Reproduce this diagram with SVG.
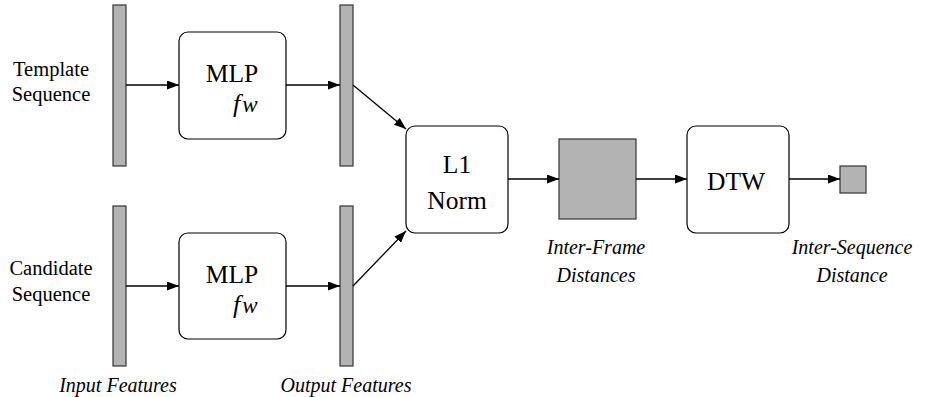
<svg xmlns="http://www.w3.org/2000/svg" width="938" height="397" viewBox="0 0 938 397">
<defs>
<marker id="ah" markerWidth="12" markerHeight="9" refX="12" refY="4.5" orient="auto" markerUnits="userSpaceOnUse">
<path d="M0,0 L12,4.5 L0,9 Z" fill="#000"/>
</marker>
<style>
.bar{fill:#b3b3b3;stroke:#333;stroke-width:1.2}
.box{fill:#fff;stroke:#000;stroke-width:1.2}
.t{font-family:"Liberation Serif",serif;fill:#000;text-anchor:middle}
.lbl{font-size:20.5px}
.big{font-size:25.5px}
.it{font-size:20px;font-style:italic}
.fw{font-family:"Liberation Serif",serif;font-size:26px;font-style:italic;fill:#000}
.c{stroke:#000;stroke-width:1.3;fill:none;marker-end:url(#ah)}
</style>
</defs>
<g id="template-label"><text class="t lbl" x="51" y="76">Template</text><text class="t lbl" x="51" y="101">Sequence</text></g>
<g id="candidate-label"><text class="t lbl" x="51" y="275">Candidate</text><text class="t lbl" x="51" y="301">Sequence</text></g>
<g id="input-top"><rect class="bar" x="113" y="5" width="13" height="161"/></g>
<g id="input-bottom"><rect class="bar" x="113" y="206" width="13" height="160"/></g>
<g id="output-top"><rect class="bar" x="340" y="5" width="13" height="161"/></g>
<g id="output-bottom"><rect class="bar" x="340" y="206" width="13" height="160"/></g>
<g id="mlp-top"><rect class="box" x="179" y="32" width="107" height="107" rx="9"/><text class="t big" x="232" y="82">MLP</text><text class="fw" x="233" y="111.5">f<tspan style="font-size:23px" dx="2">w</tspan></text></g>
<g id="mlp-bottom"><rect class="box" x="179" y="233" width="107" height="106" rx="9"/><text class="t big" x="232" y="283">MLP</text><text class="fw" x="233" y="312.5">f<tspan style="font-size:23px" dx="2">w</tspan></text></g>
<g id="l1norm"><rect class="box" x="406" y="126" width="102" height="107" rx="9"/><text class="t big" x="457" y="173">L1</text><text class="t big" x="457" y="209">Norm</text></g>
<g id="frame-dist"><rect class="bar" x="559" y="139" width="77" height="80"/><text class="t it" x="596" y="254">Inter-Frame</text><text class="t it" x="596" y="282">Distances</text></g>
<g id="dtw"><rect class="box" x="687" y="126" width="102" height="107" rx="9"/><text class="t big" x="736" y="190">DTW</text></g>
<g id="seq-dist"><rect class="bar" x="840" y="166" width="26" height="27"/><text class="t it" x="852" y="254">Inter-Sequence</text><text class="t it" x="852" y="282">Distance</text></g>
<g id="feature-labels"><text class="t it" x="118" y="392">Input Features</text><text class="t it" x="346" y="392">Output Features</text></g>
<g id="connectors">
<line class="c" x1="126" y1="85" x2="179" y2="85"/>
<line class="c" x1="286" y1="85" x2="340" y2="85"/>
<line class="c" x1="126" y1="286" x2="179" y2="286"/>
<line class="c" x1="286" y1="286" x2="340" y2="286"/>
<line class="c" x1="353" y1="85" x2="406" y2="129"/>
<line class="c" x1="353" y1="286" x2="406" y2="231"/>
<line class="c" x1="508" y1="179" x2="559" y2="179"/>
<line class="c" x1="636" y1="179" x2="687" y2="179"/>
<line class="c" x1="789" y1="179" x2="840" y2="179"/>
</g>
</svg>
